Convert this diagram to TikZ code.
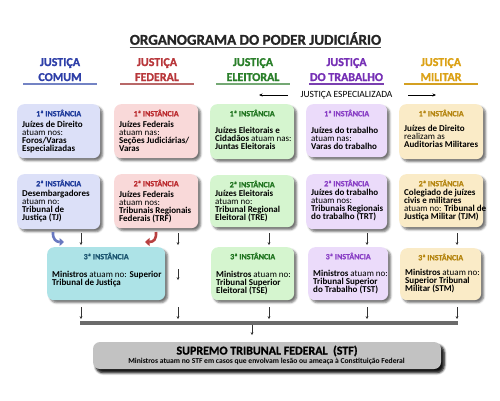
\documentclass[tikz,border=0pt]{standalone}
\usepackage{fontspec}
\setmainfont{Carlito}
\newfontfamily\hvyfont{Carlito}[FakeBold=1.2]
\newfontfamily\midfont{Carlito}[FakeBold=0.6]
\usetikzlibrary{calc,backgrounds,shadows.blur,arrows.meta}

\definecolor{comumtxt}{HTML}{2E3FA8}
\definecolor{comumline}{HTML}{7383C4}
\definecolor{comumfill}{HTML}{DCE0F8}
\definecolor{comumhdr}{HTML}{1F3B9B}
\definecolor{federaltxt}{HTML}{B8373B}
\definecolor{federalline}{HTML}{B86868}
\definecolor{federalfill}{HTML}{F9D9D9}
\definecolor{federalhdr}{HTML}{BB2A2E}
\definecolor{eleitxt}{HTML}{2A7F2A}
\definecolor{eleiline}{HTML}{74A874}
\definecolor{eleifill}{HTML}{D5F5CF}
\definecolor{eleihdr}{HTML}{1F741F}
\definecolor{trabtxt}{HTML}{7630B5}
\definecolor{trabline}{HTML}{7A40B0}
\definecolor{trabfill}{HTML}{EBDBFA}
\definecolor{trabhdr}{HTML}{8A40C6}
\definecolor{miltxt}{HTML}{DBA115}
\definecolor{milline}{HTML}{D4A021}
\definecolor{milfill}{HTML}{FAEBC7}
\definecolor{milhdr}{HTML}{B5850F}
\definecolor{stjfill}{HTML}{ADE3E7}
\definecolor{stjhdr}{HTML}{1B5570}
\definecolor{stffill}{HTML}{C2C2C2}
\definecolor{bluearrow}{HTML}{6878C0}
\definecolor{redarrow}{HTML}{B84040}

\tikzset{
  instfill/.style={rounded corners=7pt, inner sep=0pt,
    blur shadow={shadow xshift=2.5pt, shadow yshift=-2.5pt, shadow blur radius=2pt, shadow opacity=55}},
  hdrtxt/.style={inner sep=0pt, font=\midfont\fontsize{8}{9}\selectfont},
  bodytxt/.style={inner sep=0pt, align=left, font=\fontsize{9}{8}\selectfont},
  colhdr/.style={inner sep=0pt, anchor=base, font=\hvyfont\fontsize{12}{15}\selectfont},
  barnode/.style={inner sep=0pt, outer sep=0pt, minimum width=74pt, minimum height=1.5pt},
  vline/.style={draw=#1, line width=1.4pt},
  fatarrow/.style={draw=#1, line width=2.6pt, -{Triangle[length=4.5pt,width=8pt]}},
  smallarr/.style={draw=black!80, line width=0.5pt, -{Stealth[length=2.8pt,width=2.8pt]}},
  bigarr/.style={draw=black, line width=0.6pt, -{Stealth[length=3.5pt,width=3pt]}},
}

\newcommand{\instbox}[9]{%
  \node[instfill, fill=#2fill, minimum width=#5pt, minimum height=#6pt, anchor=north west] (#1) at (#3,#4) {};
  \node[hdrtxt, text=#2hdr] (#1h) at ($(#1.north)+(0,9)$) {\textbf{#7}};
  \node[bodytxt, anchor=north west] (#1b) at (#3+5,#8) {#9};
}

\begin{document}
\begin{tikzpicture}[x=1pt,y=-1pt]
\lineskiplimit=-20pt
\useasboundingbox (0,0) rectangle (500,400);

% title
\node[inner sep=0pt, font=\hvyfont\fontsize{15}{17}\selectfont, text=black!85] (ttl) at (255.5,38.5) {\textbf{ORGANOGRAMA DO PODER JUDICIÁRIO}};
\draw[line width=1.2pt, black!70] ([yshift=-2.8pt]ttl.base west) -- ([yshift=-2.8pt]ttl.base east);

% column headers
\node[colhdr, text=comumtxt] (hc1) at (60,66) {\textbf{JUSTIÇA}};
\node[colhdr, text=comumtxt] (hc2) at (60,81) {\textbf{COMUM}};
\node[colhdr, text=federaltxt] (hf1) at (157,66) {\textbf{JUSTIÇA}};
\node[colhdr, text=federaltxt] (hf2) at (157,81) {\textbf{FEDERAL}};
\node[colhdr, text=eleitxt] (he1) at (253,66) {\textbf{JUSTIÇA}};
\node[colhdr, text=eleitxt] (he2) at (253,81) {\textbf{ELEITORAL}};
\node[colhdr, text=trabtxt] (ht1) at (346.5,66) {\textbf{JUSTIÇA}};
\node[colhdr, text=trabtxt] (ht2) at (346.5,81) {\textbf{DO TRABALHO}};
\node[colhdr, text=miltxt] (hm1) at (441,66) {\textbf{JUSTIÇA}};
\node[colhdr, text=miltxt] (hm2) at (441,81) {\textbf{MILITAR}};

\node[barnode, fill=comumline] (bc) at (60,84) {};
\node[barnode, fill=federalline] (bf) at (157,84) {};
\node[barnode, fill=eleiline] (be) at (253,84) {};
\node[barnode, fill=trabline, minimum width=75pt] (bt) at (346.5,84) {};
\node[barnode, fill=milline] (bm) at (441,84) {};

% row 1
\instbox{c1}{comum}{17}{104}{83}{54}{1ª INSTÂNCIA}{120.5}{\textbf{Juízes de Direito}\\atuam nos:\\\textbf{Foros/Varas}\\\textbf{Especializadas}}
\instbox{f1}{federal}{114}{104}{84}{54}{1ª INSTÂNCIA}{120.5}{\textbf{Juízes Federais}\\atuam nas:\\\textbf{Seções Judiciárias/}\\\textbf{Varas}}
\instbox{e1}{elei}{210}{104}{84}{55}{1ª INSTÂNCIA}{126.5}{\textbf{Juízes Eleitorais e}\\\textbf{Cidadãos} atuam nas:\\\textbf{Juntas Eleitorais}}
\instbox{t1}{trab}{306}{104}{81}{53}{1ª INSTÂNCIA}{127}{\textbf{Juízes do trabalho}\\atuam nas:\\\textbf{Varas do trabalho}}
\instbox{m1}{mil}{399}{104}{84}{55}{1ª INSTÂNCIA}{125}{\textbf{Juízes de Direito}\\realizam as\\\textbf{Auditorias Militares}}

% row 2
\instbox{c2}{comum}{17}{174}{83}{55}{2ª INSTÂNCIA}{189.5}{\textbf{Desembargadores}\\atuam no:\\\textbf{Tribunal de}\\\textbf{Justiça (TJ)}}
\instbox{f2}{federal}{114}{174}{84}{54}{2ª INSTÂNCIA}{190.5}{\textbf{Juízes Federais}\\atuam nos:\\\textbf{Tribunais Regionais}\\\textbf{Federais (TRF)}}
\instbox{e2}{elei}{210}{175}{84}{52}{2ª INSTÂNCIA}{189.5}{\textbf{Juízes Eleitorais}\\atuam no:\\\textbf{Tribunal Regional}\\\textbf{Eleitoral (TRE)}}
\instbox{t2}{trab}{306}{174}{81}{55}{2ª INSTÂNCIA}{188.5}{\textbf{Juízes do trabalho}\\atuam nos:\\\textbf{Tribunais Regionais}\\\textbf{do trabalho (TRT)}}
\instbox{m2}{mil}{399}{174}{84}{53}{2ª INSTÂNCIA}{188.5}{\textbf{Colegiado de juízes}\\\textbf{civis e militares}\\atuam no: \textbf{Tribunal de}\\\textbf{Justiça Militar (TJM)}}

% row 3
\instbox{s3}{stj}{47}{247}{118}{53}{3ª INSTÂNCIA}{270.5}{\textbf{Ministros} atuam no: \textbf{Superior}\\\textbf{Tribunal de Justiça}}
\instbox{e3}{elei}{211}{247}{83}{53}{3ª INSTÂNCIA}{270.5}{\textbf{Ministros} atuam no:\\\textbf{Tribunal Superior}\\\textbf{Eleitoral (TSE)}}
\instbox{t3}{trab}{308}{247}{80}{53}{3ª INSTÂNCIA}{269.5}{\textbf{Ministros} atuam no:\\\textbf{Tribunal Superior}\\\textbf{do Trabalho (TST)}}
\instbox{m3}{mil}{400}{248}{81}{52}{3ª INSTÂNCIA}{268.5}{\textbf{Ministros} atuam no:\\\textbf{Superior Tribunal}\\\textbf{Militar (STM)}}

% vertical connectors (behind boxes)
\begin{scope}[on background layer]
\draw[vline=comumline] (bc.center) -- (bc.center |- c2.south);
\draw[vline=federalline] (bf.center) -- (bf.center |- f2.south);
\draw[vline=eleiline] (be.center) -- (be.center |- e3.north);
\draw[vline=trabline] (bt.center) -- (bt.center |- t3.north);
\draw[vline=milline] (bm.center) -- (bm.center |- m3.north);
\end{scope}

% justiça especializada
\node[inner sep=1.5pt, fill=white, font=\fontsize{9.5}{10}\selectfont] (je) at (346.5,95) {JUSTIÇA ESPECIALIZADA};
\coordinate (jeL0) at (288,95);
\coordinate (jeL1) at (259,95);
\coordinate (jeR0) at (408,95);
\coordinate (jeR1) at (436,95);
\draw[bigarr] (jeL0) -- (jeL1);
\draw[bigarr] (jeR0) -- (jeR1);

% curved arrows
\coordinate (cu0) at (53,232);
\coordinate (cu1) at (64,242);
\draw[fatarrow=bluearrow] (cu0) .. controls (52.5,239) and (56,242) .. (cu1);
\coordinate (fu0) at (156,232);
\coordinate (fu1) at (145,242);
\draw[fatarrow=redarrow] (fu0) .. controls (156.5,239) and (154,242) .. (fu1);

% small arrows
\foreach \x [count=\i] in {81,178,269,367,457}{
  \coordinate (sa\i) at (\x,233);
  \coordinate (sb\i) at (\x,245);
  \draw[smallarr] (sa\i) -- (sb\i);
  \coordinate (sc\i) at (\x,307);
  \coordinate (sd\i) at (\x,319);
  \draw[smallarr] (sc\i) -- (sd\i);
}
\coordinate (mid0) at (178,269);
\coordinate (mid1) at (178,280);
\draw[smallarr] (mid0) -- (mid1);

% grey bar and STF
\node[inner sep=0pt, outer sep=0pt, fill=black!58, minimum width=378pt, minimum height=3.2pt] (gbar) at (269,323) {};
\node[instfill, fill=stffill, minimum width=348pt, minimum height=27pt,
  blur shadow={shadow xshift=3pt, shadow yshift=-3.5pt, shadow blur radius=2.5pt, shadow opacity=75}] (stf) at (267,355.5) {};
\coordinate (stfin) at (252,335);
\draw[smallarr] (gbar.south -| stfin) -- (stfin);
\node[inner sep=0pt, font=\hvyfont\fontsize{12}{13}\selectfont] (stft) at (267,351) {\textbf{SUPREMO TRIBUNAL FEDERAL\ \ (STF)}};
\node[inner sep=0pt, font=\fontsize{7.6}{8}\selectfont] (stfs) at (266.5,361.5) {\textbf{Ministros atuam no STF em casos que envolvam lesão ou ameaça à Constituição Federal}};
\end{tikzpicture}
\end{document}
